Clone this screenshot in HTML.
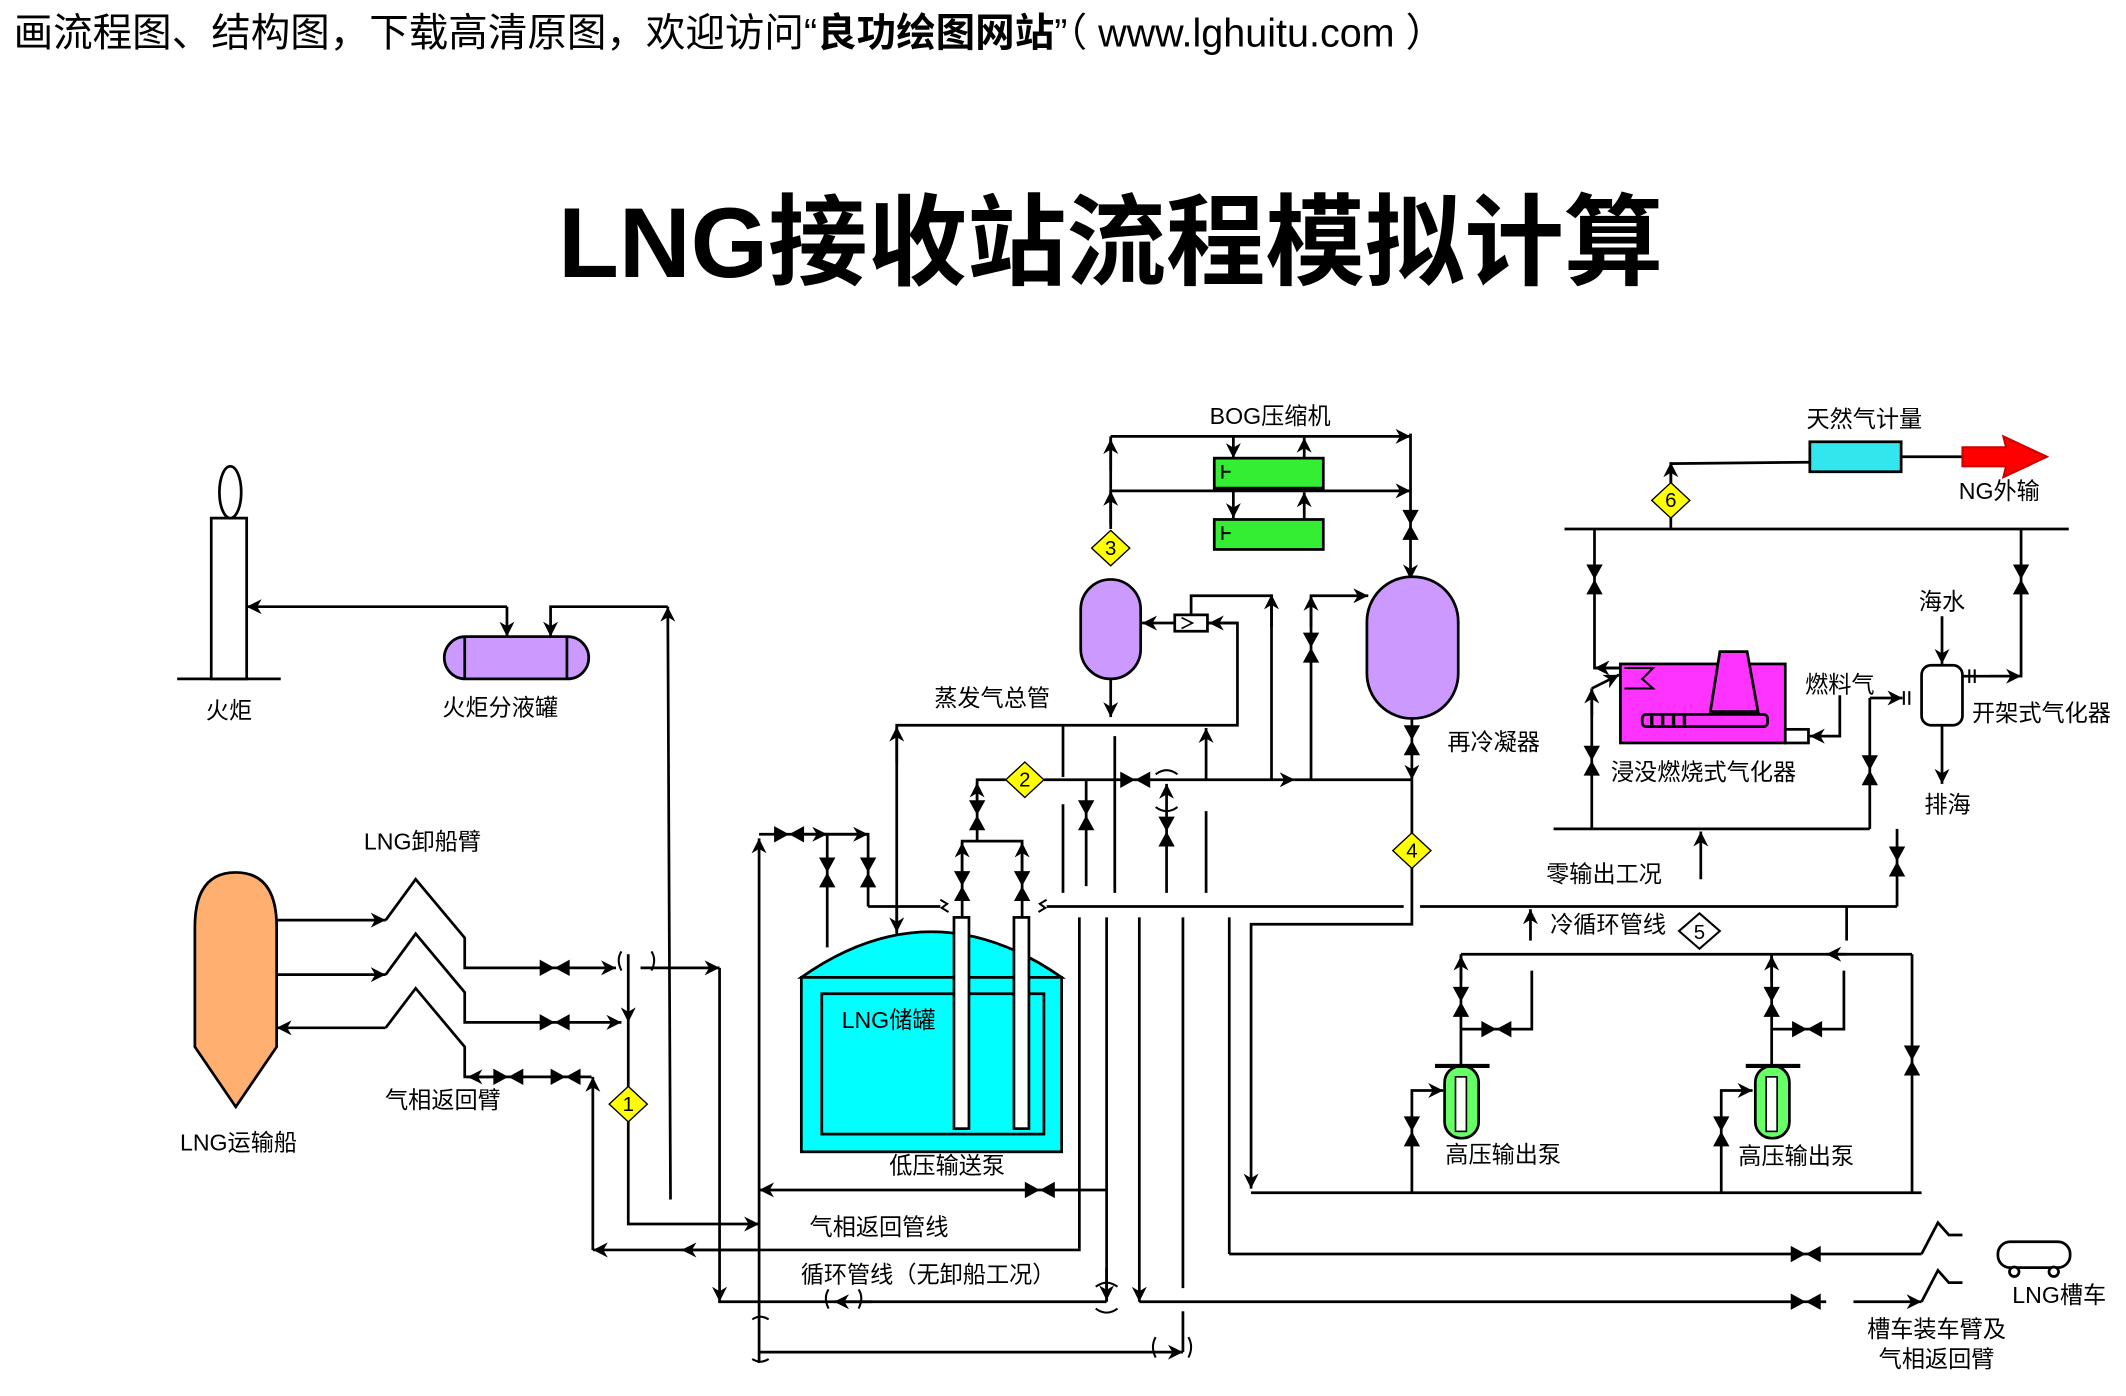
<!DOCTYPE html>
<html><head><meta charset="utf-8"><style>
html,body{margin:0;padding:0;background:#fff;}
svg{display:block;}
text{font-family:"Liberation Sans","Noto Sans CJK SC",sans-serif;fill:#000;}
</style></head><body>
<svg width="2126" height="1396" viewBox="0 0 1560 1024" xmlns="http://www.w3.org/2000/svg">
<defs>
<marker id="a" viewBox="0 0 10 10" refX="10" refY="5" markerWidth="11" markerHeight="11" markerUnits="userSpaceOnUse" orient="auto"><path d="M0,0 L10,5 L0,10 L3,5 z" fill="#000"/></marker>
<g id="vh"><polygon points="-11,-6 0,0 -11,6" fill="#000"/><polygon points="11,-6 0,0 11,6" fill="#000"/></g>
<g id="vv"><polygon points="-6,-11 0,0 6,-11" fill="#000"/><polygon points="-6,11 0,0 6,11" fill="#000"/></g>
<g id="dy"><polygon points="0,-13 14,0 0,13 -14,0" fill="#ffff00" stroke="#000" stroke-width="1"/></g>
</defs>
<text x="10" y="34" font-size="29">画流程图、结构图，下载高清原图，欢迎访问“<tspan font-weight="bold">良功绘图网站</tspan>”（ www.lghuitu.com ）</text>
<text x="815" y="203" font-size="73" font-weight="bold" text-anchor="middle">LNG接收站流程模拟计算</text>

<g stroke="#000" stroke-width="2" fill="none">
<!-- flare -->
<rect x="155" y="380" width="26" height="118" fill="#fff"/>
<ellipse cx="169" cy="361" rx="8" ry="19" fill="#fff"/>
<line x1="130" y1="498" x2="206" y2="498"/>
<line x1="372" y1="445" x2="181" y2="445" marker-end="url(#a)"/>
<line x1="372" y1="445" x2="372" y2="467" marker-end="url(#a)"/>
<polyline points="490,445 404,445 404,467" marker-end="url(#a)"/>
<line x1="492" y1="880" x2="490" y2="445" marker-end="url(#a)"/>
<rect x="326" y="467" width="106" height="31" rx="15.5" fill="#cc99ff"/>
<line x1="341" y1="467" x2="341" y2="498"/><line x1="416" y1="467" x2="416" y2="498"/>

<!-- ship -->
<path d="M143,680 Q143,640 173,640 Q203,640 203,680 L203,768 L173,812 L143,768 Z" fill="#ffb070"/>
<line x1="203" y1="675" x2="283" y2="675" marker-end="url(#a)"/>
<line x1="203" y1="715" x2="283" y2="715" marker-end="url(#a)"/>
<line x1="283" y1="754" x2="203" y2="754" marker-end="url(#a)"/>
<polyline points="283,675 305,645 341,688 341,710 452,710" marker-end="url(#a)"/>
<polyline points="283,715 305,685 341,728 341,750 456,750" marker-end="url(#a)"/>
<polyline points="283,754 305,725 341,768 341,790 434,790"/>
<line x1="360" y1="790" x2="343" y2="790" marker-end="url(#a)"/>
<polyline points="435,917 435,790" marker-end="url(#a)"/>
<line x1="461" y1="700" x2="461" y2="750" marker-end="url(#a)"/>
<polyline points="461,750 461,898 557,898" marker-end="url(#a)"/>
<line x1="470" y1="710" x2="528" y2="710" marker-end="url(#a)"/>
<line x1="528" y1="710" x2="528" y2="955" marker-end="url(#a)"/>
<path d="M456,698 Q452,704 456,712 M478,698 Q482,704 478,712" stroke-width="1.5"/>

<!-- left verticals and bottom lines -->
<line x1="557" y1="1000" x2="557" y2="615" marker-end="url(#a)"/>
<line x1="812" y1="873" x2="557" y2="873" marker-end="url(#a)"/>
<line x1="793" y1="917" x2="435" y2="917" marker-end="url(#a)"/>
<line x1="555" y1="917" x2="500" y2="917" marker-end="url(#a)"/>
<line x1="527" y1="955" x2="812" y2="955"/>
<line x1="640" y1="955" x2="612" y2="955" marker-end="url(#a)"/>
<path d="M608,946 Q604,952 608,960 M630,946 Q634,952 630,960" stroke-width="1.5"/>
<line x1="557" y1="992" x2="868" y2="992" marker-end="url(#a)"/>
<path d="M552,968 Q558,964 564,968 M552,997 Q558,1001 564,997" stroke-width="1.5"/>
<path d="M848,981 Q844,988 848,996 M872,981 Q876,988 872,996" stroke-width="1.5"/>

<!-- tank left piping -->
<polyline points="557,612 637,612 637,665"/>
<line x1="600" y1="612" x2="637" y2="612" marker-end="url(#a)"/>
<line x1="590" y1="612" x2="607" y2="612" marker-end="url(#a)"/>
<line x1="607" y1="612" x2="607" y2="695"/>
<line x1="637" y1="665" x2="690" y2="665"/>
<path d="M690,660 l5,3 l-4,3 l5,3" stroke-width="1.5"/>
<path d="M768,660 l-5,3 l4,3 l-5,3" stroke-width="1.5"/>
<polyline points="658,690 658,532 908,532 908,457 886,457"/>
<line x1="658" y1="560" x2="658" y2="533" marker-end="url(#a)"/>
<line x1="658" y1="665" x2="658" y2="684" marker-end="url(#a)"/>
<line x1="885" y1="572" x2="885" y2="534" marker-end="url(#a)"/>
<line x1="780" y1="532" x2="780" y2="570"/>
<line x1="768" y1="665" x2="1030" y2="665"/>
<line x1="1042" y1="665" x2="1392" y2="665"/>

<!-- tank -->
<path d="M588,717 Q683,650 779,717 Z" fill="#00ffff"/>
<rect x="588" y="717" width="191" height="128" fill="#00ffff"/>
<rect x="603" y="729" width="163" height="103"/>
<rect x="700" y="673" width="11" height="155" fill="#fff"/>
<rect x="744" y="673" width="11" height="155" fill="#fff"/>
<polyline points="706,673 706,617 750,617 750,673"/>
<line x1="706" y1="640" x2="706" y2="618" marker-end="url(#a)"/>
<line x1="750" y1="640" x2="750" y2="618" marker-end="url(#a)"/>
<polyline points="717,617 717,572 738,572"/>
<line x1="717" y1="595" x2="717" y2="574" marker-end="url(#a)"/>
<line x1="766" y1="572" x2="950" y2="572" marker-end="url(#a)"/>
<line x1="950" y1="572" x2="1036" y2="572"/>
<path d="M848,568 Q856,562 864,568 M848,592 Q856,598 864,592" stroke-width="1.5"/>
<line x1="797" y1="572" x2="797" y2="650"/>
<line x1="818" y1="540" x2="818" y2="655"/>
<line x1="856" y1="655" x2="856" y2="575" marker-end="url(#a)"/>
<line x1="885" y1="595" x2="885" y2="655"/>
<line x1="780" y1="590" x2="780" y2="655"/>
<line x1="792" y1="673" x2="792" y2="873"/>
<line x1="792" y1="873" x2="792" y2="916"/>
<line x1="812" y1="673" x2="812" y2="955"/>
<line x1="812" y1="930" x2="812" y2="954" marker-end="url(#a)"/>
<line x1="836" y1="673" x2="836" y2="955" marker-end="url(#a)"/>
<line x1="868" y1="673" x2="868" y2="945"/>
<line x1="868" y1="962" x2="868" y2="992"/>
<line x1="902" y1="673" x2="902" y2="920"/>
<path d="M804,944 Q812,938 820,944 M804,960 Q812,966 820,960" stroke-width="1.5"/>
<line x1="836" y1="955" x2="1340" y2="955"/>
<line x1="1360" y1="955" x2="1410" y2="955" marker-end="url(#a)"/>
<line x1="902" y1="920" x2="1410" y2="920"/>
<polyline points="1410,920 1422,897 1430,906 1440,906"/>
<polyline points="1410,955 1422,932 1430,941 1440,941"/>
<rect x="1466" y="911" width="53" height="19" rx="9" fill="#fff"/>
<circle cx="1478" cy="933" r="3.5" fill="#fff"/><circle cx="1507" cy="933" r="3.5" fill="#fff"/>

<!-- BOG section -->
<line x1="815" y1="388" x2="815" y2="320"/>
<line x1="815" y1="385" x2="815" y2="360" marker-end="url(#a)"/>
<line x1="815" y1="345" x2="815" y2="322" marker-end="url(#a)"/>
<line x1="815" y1="320" x2="1035" y2="320" marker-end="url(#a)"/>
<line x1="815" y1="360" x2="1035" y2="360" marker-end="url(#a)"/>
<polyline points="905,320 905,336" marker-end="url(#a)"/>
<polyline points="905,360 905,380" marker-end="url(#a)"/>
<rect x="891" y="336" width="80" height="22" fill="#33ee33"/>
<rect x="891" y="381" width="80" height="22" fill="#33ee33"/>
<path d="M897,341 v10 M897,346 h6 M897,386 v10 M897,391 h6" stroke-width="1.5"/>
<line x1="957" y1="336" x2="957" y2="321" marker-end="url(#a)"/>
<line x1="957" y1="381" x2="957" y2="361" marker-end="url(#a)"/>
<line x1="1035" y1="318" x2="1035" y2="425" marker-end="url(#a)"/>
<rect x="793" y="425" width="44" height="73" rx="22" fill="#cc99ff"/>
<line x1="815" y1="498" x2="815" y2="526" marker-end="url(#a)"/>
<line x1="862" y1="457" x2="838" y2="457" marker-end="url(#a)"/>
<rect x="862" y="451" width="24" height="12" fill="#fff"/>
<path d="M867,453 l8,4 l-8,4" stroke-width="1.2"/>
<line x1="908" y1="457" x2="887" y2="457" marker-end="url(#a)"/>
<polyline points="874,451 874,437 933,437 933,572"/>
<line x1="933" y1="460" x2="933" y2="436" marker-end="url(#a)"/>
<polyline points="962,572 962,437 1004,437" marker-end="url(#a)"/>
<line x1="962" y1="460" x2="962" y2="437" marker-end="url(#a)"/>
<rect x="1003" y="423" width="67" height="104" rx="33" fill="#cc99ff"/>
<line x1="1036" y1="527" x2="1036" y2="572" marker-end="url(#a)"/>
<polyline points="1036,572 1036,678 918,678 918,872" marker-end="url(#a)"/>

<!-- HP pumps -->
<line x1="1392" y1="665" x2="1392" y2="608"/>
<line x1="1140" y1="608" x2="1372" y2="608"/>
<line x1="1372" y1="608" x2="1372" y2="512"/>
<line x1="1248" y1="645" x2="1248" y2="610" marker-end="url(#a)"/>
<line x1="1123" y1="690" x2="1123" y2="667" marker-end="url(#a)"/>
<line x1="1072" y1="700" x2="1355" y2="700"/>
<line x1="1355" y1="665" x2="1355" y2="690"/>
<line x1="1403" y1="700" x2="1340" y2="700" marker-end="url(#a)"/>
<line x1="1403" y1="700" x2="1403" y2="875"/>
<line x1="918" y1="875" x2="1410" y2="875"/>
<line x1="1072" y1="782" x2="1072" y2="700"/>
<line x1="1072" y1="720" x2="1072" y2="701" marker-end="url(#a)"/>
<polyline points="1072,755 1124,755 1124,712"/>
<polyline points="1036,875 1036,800 1059,800" marker-end="url(#a)"/>
<rect x="1060" y="782" width="25" height="53" rx="12" fill="#66ff66"/>
<line x1="1053" y1="782" x2="1093" y2="782" stroke-width="3"/>
<rect x="1068" y="790" width="8" height="40" fill="#fff" stroke-width="1.2"/>
<line x1="1300" y1="782" x2="1300" y2="700"/>
<line x1="1300" y1="720" x2="1300" y2="701" marker-end="url(#a)"/>
<polyline points="1300,755 1353,755 1353,712"/>
<polyline points="1263,875 1263,800 1286,800" marker-end="url(#a)"/>
<rect x="1288" y="782" width="25" height="53" rx="12" fill="#66ff66"/>
<line x1="1281" y1="782" x2="1321" y2="782" stroke-width="3"/>
<rect x="1296" y="790" width="8" height="40" fill="#fff" stroke-width="1.2"/>

<!-- vaporizers -->
<line x1="1148" y1="388" x2="1518" y2="388"/>
<polyline points="1226,388 1226,340 1328,339"/>
<line x1="1226" y1="360" x2="1226" y2="339" marker-end="url(#a)"/>
<rect x="1328" y="324" width="67" height="22" fill="#33e6ee"/>
<line x1="1395" y1="335" x2="1440" y2="335"/>
<polygon points="1440,328 1472,328 1470,320 1502,335 1470,350 1472,342 1440,342" fill="#ff0000" stroke="#c00" stroke-width="1.5"/>
<polyline points="1170,388 1170,490 1189,490"/>
<line x1="1189" y1="490" x2="1170" y2="490" marker-end="url(#a)"/>
<polyline points="1168,608 1168,505" />
<line x1="1168" y1="525" x2="1168" y2="505" marker-end="url(#a)"/>
<line x1="1168" y1="505" x2="1188" y2="495" marker-end="url(#a)"/>
<rect x="1189" y="487" width="121" height="58" fill="#ff33ff"/>
<polygon points="1262,478 1282,478 1290,522 1255,522" fill="#ff33ff"/>
<rect x="1205" y="524" width="92" height="9" rx="3" fill="#ff33ff"/>
<path d="M1212,525 v7 M1220,525 v7 M1228,525 v7 M1236,525 v7" stroke-width="2.5"/>
<polyline points="1192,490 1213,490 1205,498 1213,505 1192,505" stroke-width="1.5"/>
<rect x="1310" y="535" width="17" height="10" fill="#fff"/>
<polyline points="1350,510 1350,540 1328,540" marker-end="url(#a)"/>
<line x1="1425" y1="452" x2="1425" y2="487" marker-end="url(#a)"/>
<rect x="1410" y="488" width="30" height="44" rx="7" fill="#fff"/>
<line x1="1425" y1="532" x2="1425" y2="575" marker-end="url(#a)"/>
<polyline points="1440,496 1483,496 1483,388"/>
<line x1="1460" y1="496" x2="1483" y2="496" marker-end="url(#a)"/>
<path d="M1445,491 v10 M1449,491 v10 M1397,507 v10 M1401,507 v10" stroke-width="1.5"/>
<polyline points="1372,512 1396,512" marker-end="url(#a)"/>
</g>

<!-- valves -->
<use href="#vh" x="407" y="710"/><use href="#vh" x="407" y="750"/>
<use href="#vh" x="373" y="790"/><use href="#vh" x="415" y="790"/>
<use href="#vh" x="579" y="612"/>
<use href="#vv" x="607" y="640"/><use href="#vv" x="637" y="640"/>
<use href="#vv" x="706" y="650"/><use href="#vv" x="750" y="650"/>
<use href="#vv" x="717" y="598"/><use href="#vv" x="797" y="598"/><use href="#vv" x="856" y="610"/>
<use href="#vh" x="833" y="572"/>
<use href="#vh" x="763" y="873"/>
<use href="#vh" x="1325" y="920"/><use href="#vh" x="1325" y="955"/>
<use href="#vv" x="962" y="475"/>
<use href="#vv" x="1035" y="385"/><use href="#vv" x="1036" y="543"/>
<use href="#vv" x="1392" y="632"/>
<use href="#vv" x="1072" y="735"/><use href="#vh" x="1098" y="755"/><use href="#vv" x="1036" y="830"/>
<use href="#vv" x="1300" y="735"/><use href="#vh" x="1326" y="755"/><use href="#vv" x="1263" y="830"/>
<use href="#vv" x="1403" y="778"/>
<use href="#vv" x="1170" y="425"/><use href="#vv" x="1168" y="558"/>
<use href="#vv" x="1483" y="425"/><use href="#vv" x="1372" y="565"/>
<!-- diamonds -->
<use href="#dy" x="461" y="810"/><use href="#dy" x="752" y="572"/><use href="#dy" x="815" y="402"/>
<use href="#dy" x="1036" y="624"/><use href="#dy" x="1226" y="367"/>
<polygon points="1247,670 1262,683 1247,696 1232,683" fill="#fff" stroke="#000" stroke-width="1.5"/>
<g font-size="15" text-anchor="middle">
<text x="461" y="815">1</text><text x="752" y="577">2</text><text x="815" y="407">3</text>
<text x="1036" y="629">4</text><text x="1247" y="689">5</text><text x="1226" y="372">6</text>
</g>

<g font-size="17" text-anchor="middle">
<text x="168" y="527">火炬</text>
<text x="367" y="525">火炬分液罐</text>
<text x="310" y="623">LNG卸船臂</text>
<text x="325" y="813">气相返回臂</text>
<text x="175" y="844">LNG运输船</text>
<text x="652" y="754">LNG储罐</text>
<text x="695" y="861">低压输送泵</text>
<text x="645" y="906">气相返回管线</text>
<text x="681" y="941">循环管线（无卸船工况）</text>
<text x="728" y="518">蒸发气总管</text>
<text x="932" y="311">BOG压缩机</text>
<text x="1096" y="550">再冷凝器</text>
<text x="1177" y="647">零输出工况</text>
<text x="1180" y="684">冷循环管线</text>
<text x="1103" y="853">高压输出泵</text>
<text x="1318" y="854">高压输出泵</text>
<text x="1368" y="313">天然气计量</text>
<text x="1467" y="366">NG外输</text>
<text x="1425" y="447">海水</text>
<text x="1350" y="508">燃料气</text>
<text x="1498" y="529">开架式气化器</text>
<text x="1250" y="572">浸没燃烧式气化器</text>
<text x="1429" y="596">排海</text>
<text x="1511" y="956">LNG槽车</text>
<text x="1421" y="981">槽车装车臂及</text>
<text x="1421" y="1003">气相返回臂</text>
</g>
</svg>
</body></html>
